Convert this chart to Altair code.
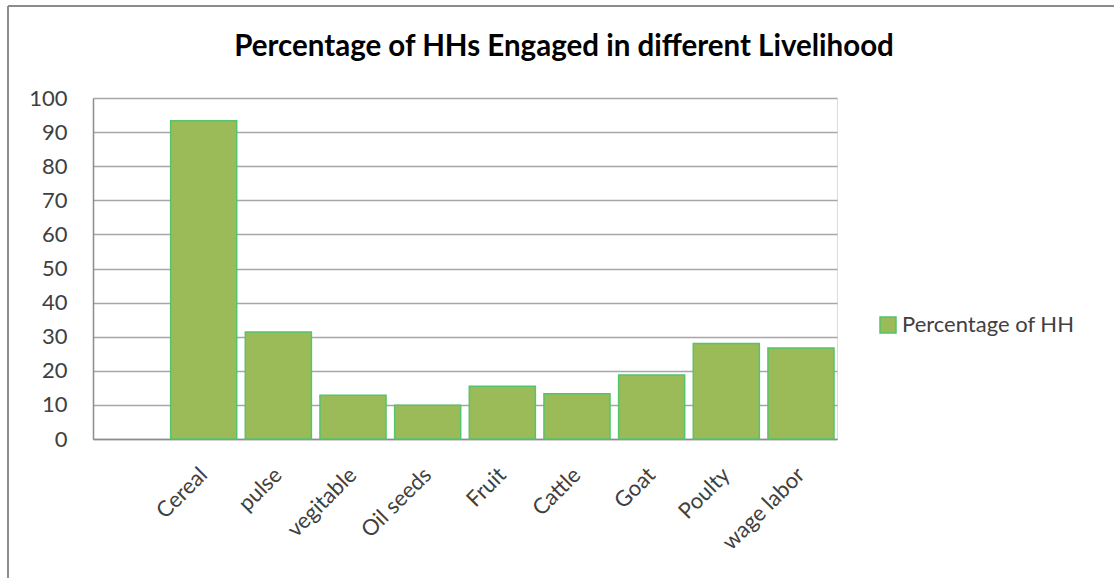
import altair as alt
import pandas as pd

# ---- data ----
categories = ["Cereal", "pulse", "vegitable", "Oil seeds", "Fruit",
              "Cattle", "Goat", "Poulty", "wage labor"]
values = [93.3, 31.4, 12.8, 9.9, 15.5, 13.3, 18.8, 28.0, 26.7]
axis_slots = [""] + categories          # first slot on the axis is empty
series_name = "Percentage of HH"
chart_title = "Percentage of HHs Engaged in different Livelihood"
y_ticks = list(range(0, 101, 10))

df = pd.DataFrame({"category": categories, "value": values})
df["series"] = series_name

W, H = 744, 341
PAD = {"left": 93, "top": 98, "right": 1114 - 93 - W, "bottom": 578 - 98 - H}

FONT = "Lato"
TXT = "#404040"
BAR_FILL = "#9BBB59"
BAR_STROKE = "#55C46A"

bars = alt.Chart(df).mark_bar(
    stroke=BAR_STROKE, strokeWidth=1.5
).encode(
    x=alt.X("category:N",
            scale=alt.Scale(domain=axis_slots, paddingInner=0.115, paddingOuter=0.04),
            axis=alt.Axis(title=None, labelAngle=-45, labelAlign="right",
                          labelBaseline="middle", labelFont=FONT, labelFontSize=22,
                          labelColor=TXT, ticks=False, domainColor="#8C8C8C",
                          domainWidth=1.5, labelPadding=32, grid=False)),
    y=alt.Y("value:Q",
            scale=alt.Scale(domain=[0, 100], nice=False),
            axis=alt.Axis(title=None, values=y_ticks, labelFont=FONT, labelFontSize=22,
                          labelColor=TXT, ticks=False, labelPadding=26,
                          domainColor="#8C8C8C", domainWidth=1.5,
                          gridColor="#A6A6A6", gridWidth=1.5)),
    color=alt.Color("series:N",
                    scale=alt.Scale(domain=[series_name], range=[BAR_FILL]),
                    legend=alt.Legend(title=None, orient="none", legendX=784, legendY=216,
                                      symbolType="square", symbolSize=256,
                                      symbolStrokeColor=BAR_STROKE, symbolStrokeWidth=1.5,
                                      labelFont=FONT, labelFontSize=22, labelColor=TXT,
                                      labelOffset=3, labelLimit=400, padding=0)),
)

one = pd.DataFrame({"k": [0]})

title_mark = alt.Chart(one).mark_text(
    font=FONT, fontSize=29.5, fontWeight="bold", color="#000000",
    align="center", baseline="alphabetic"
).encode(x=alt.value(471), y=alt.value(-42), text=alt.value(chart_title))

frame_top = alt.Chart(one).mark_rule(color="#8C8C8C", strokeWidth=2).encode(
    x=alt.value(-85), x2=alt.value(1021), y=alt.value(-92))
frame_left = alt.Chart(one).mark_rule(color="#8C8C8C", strokeWidth=2).encode(
    x=alt.value(-85), y=alt.value(-92), y2=alt.value(480))

chart = alt.layer(bars, title_mark, frame_top, frame_left).properties(
    width=W, height=H,
    autosize=alt.AutoSizeParams(type="none"),
    padding=PAD,
).configure_view(stroke=None).configure(background="white")

chart.save("out.html", embed_options={"renderer": "svg", "actions": False})
